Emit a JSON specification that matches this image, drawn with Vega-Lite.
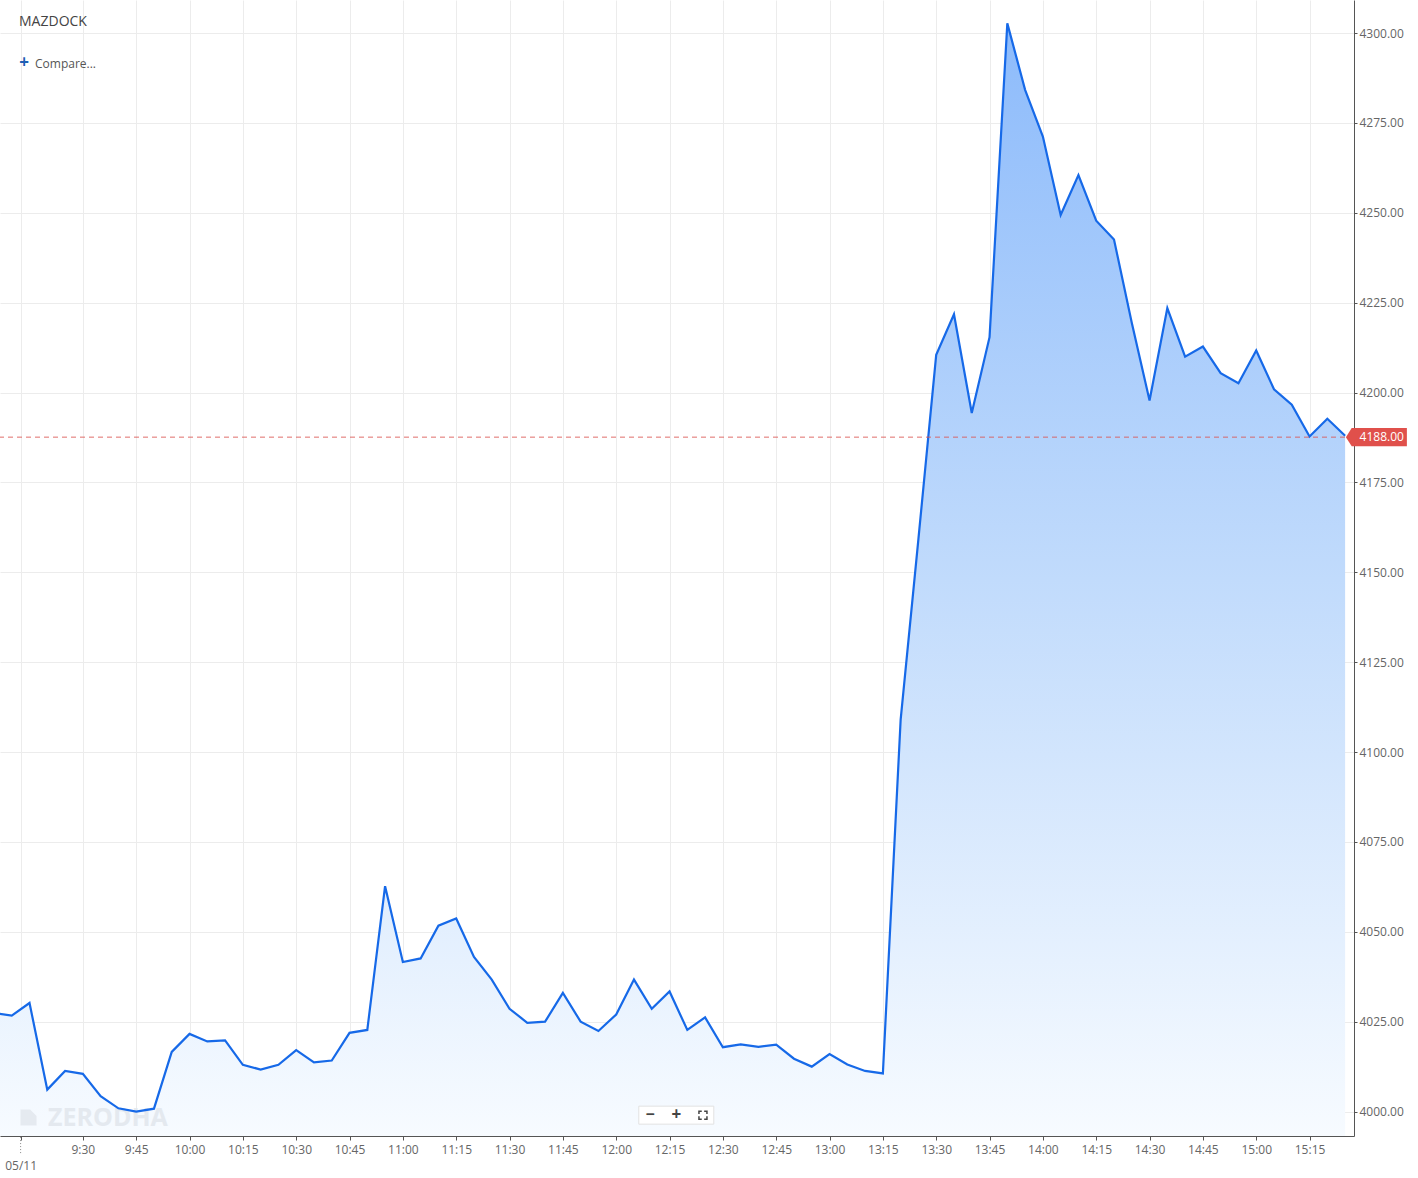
{
  "$schema": "https://vega.github.io/schema/vega-lite/v6.json",
  "width": 1354,
  "height": 1136,
  "padding": {"left": 0, "top": 0, "right": 64, "bottom": 42},
  "autosize": {"type": "none"},
  "background": "#ffffff",
  "config": {
    "view": {"stroke": null},
    "font": "Open Sans",
    "axis": {"labelFont": "Open Sans", "labelFontSize": 12, "labelColor": "#666666", "gridColor": "#ececec", "gridWidth": 1, "domainColor": "#555555", "tickColor": "#555555", "title": null}
  },
  "datasets": {
    "prices": [
      {"t": -10, "price": 4027.4}, {"t": -5, "price": 4026.7},
      {"t": 0, "price": 4030.2}, {"t": 5, "price": 4006.1}, {"t": 10, "price": 4011.3}, {"t": 15, "price": 4010.5},
      {"t": 20, "price": 4004.3}, {"t": 25, "price": 4000.9}, {"t": 30, "price": 4000.0}, {"t": 35, "price": 4000.8},
      {"t": 40, "price": 4016.6}, {"t": 45, "price": 4021.6}, {"t": 50, "price": 4019.5}, {"t": 55, "price": 4019.8},
      {"t": 60, "price": 4013.0}, {"t": 65, "price": 4011.7}, {"t": 70, "price": 4013.0}, {"t": 75, "price": 4017.1},
      {"t": 80, "price": 4013.7}, {"t": 85, "price": 4014.2}, {"t": 90, "price": 4021.9}, {"t": 95, "price": 4022.7},
      {"t": 100, "price": 4062.7}, {"t": 105, "price": 4041.6}, {"t": 110, "price": 4042.6}, {"t": 115, "price": 4051.7},
      {"t": 120, "price": 4053.7}, {"t": 125, "price": 4043.0}, {"t": 130, "price": 4036.7}, {"t": 135, "price": 4028.6},
      {"t": 140, "price": 4024.7}, {"t": 145, "price": 4025.0}, {"t": 150, "price": 4033.0}, {"t": 155, "price": 4025.0},
      {"t": 160, "price": 4022.4}, {"t": 165, "price": 4027.0}, {"t": 170, "price": 4036.7}, {"t": 175, "price": 4028.6},
      {"t": 180, "price": 4033.4}, {"t": 185, "price": 4022.7}, {"t": 190, "price": 4026.2}, {"t": 195, "price": 4017.9},
      {"t": 200, "price": 4018.7}, {"t": 205, "price": 4018.0}, {"t": 210, "price": 4018.6}, {"t": 215, "price": 4014.7},
      {"t": 220, "price": 4012.5}, {"t": 225, "price": 4016.0}, {"t": 230, "price": 4013.1}, {"t": 235, "price": 4011.3},
      {"t": 240, "price": 4010.6}, {"t": 245, "price": 4109.0}, {"t": 250, "price": 4159.3}, {"t": 255, "price": 4210.5},
      {"t": 260, "price": 4221.8}, {"t": 265, "price": 4194.3}, {"t": 270, "price": 4215.4}, {"t": 275, "price": 4302.7},
      {"t": 280, "price": 4284.2}, {"t": 285, "price": 4271.2}, {"t": 290, "price": 4249.4}, {"t": 295, "price": 4260.5},
      {"t": 300, "price": 4247.8}, {"t": 305, "price": 4242.6}, {"t": 310, "price": 4219.4}, {"t": 315, "price": 4197.8},
      {"t": 320, "price": 4223.5}, {"t": 325, "price": 4210.0}, {"t": 330, "price": 4212.8}, {"t": 335, "price": 4205.4},
      {"t": 340, "price": 4202.6}, {"t": 345, "price": 4211.7}, {"t": 350, "price": 4200.9}, {"t": 355, "price": 4196.6},
      {"t": 360, "price": 4187.8}, {"t": 365, "price": 4192.7}, {"t": 370, "price": 4188.0}
    ],
    "notes": [
      {"note": "MAZDOCK"}, {"note": "+"}, {"note": "Compare..."}, {"note": "ZERODHA"}, {"note": "4188.00"}, {"note": "−"}, {"note": "zoom+"}
    ]
  },
  "layer": [
    {
      "data": {"name": "prices"},
      "mark": {
        "type": "area", "clip": true,
        "fill": {"x1": 0, "y1": 0, "x2": 0, "y2": 1, "gradient": "linear", "stops": [{"offset": 0, "color": "#8dbbfb"}, {"offset": 0.5, "color": "#c1dbfc"}, {"offset": 1, "color": "#f7fbff"}]}
      },
      "encoding": {
        "x": {
          "field": "t", "type": "quantitative",
          "scale": {"domain": [-8.3, 372.5], "nice": false, "zero": false},
          "axis": {
            "values": [-2.5, 15, 30, 45, 60, 75, 90, 105, 120, 135, 150, 165, 180, 195, 210, 225, 240, 255, 270, 285, 300, 315, 330, 345, 360],
            "labelExpr": "datum.value < 0 ? ['', '05/11'] : (floor((555 + datum.value) / 60) + ':' + ((555 + datum.value) % 60 == 0 ? '00' : ((555 + datum.value) % 60)))",
            "tickSize": 4, "labelPadding": 4, "labelLineHeight": 16, "labelFlush": false, "labelOverlap": false, "grid": true
          }
        },
        "y": {
          "field": "price", "type": "quantitative",
          "scale": {"domain": [3993.2, 4309.2], "nice": false, "zero": false},
          "axis": {
            "orient": "right",
            "values": [4000, 4025, 4050, 4075, 4100, 4125, 4150, 4175, 4200, 4225, 4250, 4275, 4300],
            "format": ".2f", "tickSize": 3, "labelPadding": 2, "labelFontSize": 12, "grid": true
          }
        },
        "y2": {"datum": 3993.2}
      }
    },
    {
      "data": {"name": "notes"},
      "transform": [{"filter": "datum.note == 'ZERODHA'"}],
      "mark": {"type": "point", "filled": true, "shape": "M-1,-1 L0.2,-1 L1,-0.2 L1,1 L-1,1 Z", "size": 256, "color": "#e3e8ee", "opacity": 0.9},
      "encoding": {"x": {"datum": -0.28}, "y": {"datum": 3998.33}}
    },
    {
      "data": {"name": "notes"},
      "transform": [{"filter": "datum.note == 'ZERODHA'"}],
      "mark": {"type": "text", "color": "#e3e8ee", "opacity": 0.9, "fontSize": 25, "fontWeight": "bold", "align": "left", "baseline": "middle"},
      "encoding": {"x": {"datum": 5.2}, "y": {"datum": 3998.33}, "text": {"field": "note"}}
    },
    {
      "data": {"name": "prices"},
      "mark": {"type": "line", "clip": true, "color": "#1669e8", "strokeWidth": 2.2},
      "encoding": {
        "x": {
          "field": "t", "type": "quantitative",
          "scale": {"domain": [-8.3, 372.5], "nice": false, "zero": false},
          "axis": {
            "values": [-2.5, 15, 30, 45, 60, 75, 90, 105, 120, 135, 150, 165, 180, 195, 210, 225, 240, 255, 270, 285, 300, 315, 330, 345, 360],
            "labelExpr": "datum.value < 0 ? ['', '05/11'] : (floor((555 + datum.value) / 60) + ':' + ((555 + datum.value) % 60 == 0 ? '00' : ((555 + datum.value) % 60)))",
            "tickSize": 4, "labelPadding": 4, "labelLineHeight": 16, "labelFlush": false, "labelOverlap": false, "grid": true
          }
        },
        "y": {
          "field": "price", "type": "quantitative",
          "scale": {"domain": [3993.2, 4309.2], "nice": false, "zero": false},
          "axis": {
            "orient": "right",
            "values": [4000, 4025, 4050, 4075, 4100, 4125, 4150, 4175, 4200, 4225, 4250, 4275, 4300],
            "format": ".2f", "tickSize": 3, "labelPadding": 2, "labelFontSize": 12, "grid": true
          }
        }
      }
    },
    {
      "data": {"name": "notes"},
      "transform": [{"filter": "datum.note == '4188.00'"}],
      "mark": {"type": "rule", "color": "#d9534f", "strokeWidth": 1, "strokeDash": [5, 4], "opacity": 0.85},
      "encoding": {"y": {"datum": 4187.6}}
    },
    {
      "data": {"name": "notes"},
      "transform": [{"filter": "datum.note == 'MAZDOCK'"}],
      "mark": {"type": "rule", "color": "#888888", "strokeWidth": 1, "strokeDash": [1, 2]},
      "encoding": {"x": {"datum": -2.5}, "y": {"datum": 3992.9}, "y2": {"datum": 3988.2}}
    },
    {
      "data": {"name": "notes"},
      "transform": [{"filter": "datum.note == '4188.00'"}],
      "mark": {"type": "point", "filled": true, "shape": "M-1,0 L-0.81,-0.3 L1,-0.3 L1,0.3 L-0.81,0.3 Z", "size": 3721, "color": "#e0504b", "opacity": 1},
      "encoding": {"x": {"datum": 378.8}, "y": {"datum": 4187.6}}
    },
    {
      "data": {"name": "notes"},
      "transform": [{"filter": "datum.note == '4188.00'"}],
      "mark": {"type": "text", "color": "#ffffff", "fontSize": 12, "align": "center", "baseline": "middle"},
      "encoding": {"x": {"datum": 380.3}, "y": {"datum": 4187.6}, "text": {"field": "note"}}
    },
    {
      "data": {"name": "notes"},
      "transform": [{"filter": "datum.note == 'MAZDOCK'"}],
      "mark": {"type": "text", "color": "#444444", "fontSize": 14, "align": "left", "baseline": "middle"},
      "encoding": {"x": {"datum": -2.95}, "y": {"datum": 4303.0}, "text": {"field": "note"}}
    },
    {
      "data": {"name": "notes"},
      "transform": [{"filter": "datum.note == '+'"}],
      "mark": {"type": "text", "color": "#1e5fb4", "fontSize": 17, "fontWeight": "bold", "align": "center", "baseline": "middle"},
      "encoding": {"x": {"datum": -1.55}, "y": {"datum": 4291.6}, "text": {"field": "note"}}
    },
    {
      "data": {"name": "notes"},
      "transform": [{"filter": "datum.note == 'Compare...'"}],
      "mark": {"type": "text", "color": "#555555", "fontSize": 12, "align": "left", "baseline": "middle"},
      "encoding": {"x": {"datum": 1.55}, "y": {"datum": 4291.4}, "text": {"field": "note"}}
    },
    {
      "data": {"name": "notes"},
      "transform": [{"filter": "datum.note == '−'"}],
      "mark": {"type": "point", "filled": true, "shape": "M-1,-0.24 L1,-0.24 L1,0.24 L-1,0.24 Z", "size": 5625, "color": "#ffffff", "stroke": "#e2e2e2", "strokeWidth": 1, "opacity": 1},
      "encoding": {"x": {"datum": 181.9}, "y": {"datum": 3999.0}}
    },
    {
      "data": {"name": "notes"},
      "transform": [{"filter": "datum.note == '−'"}],
      "mark": {"type": "text", "color": "#444444", "fontSize": 16, "fontWeight": "bold", "align": "center", "baseline": "middle"},
      "encoding": {"x": {"datum": 174.5}, "y": {"datum": 3999.0}, "text": {"field": "note"}}
    },
    {
      "data": {"name": "notes"},
      "transform": [{"filter": "datum.note == 'zoom+'"}],
      "mark": {"type": "text", "color": "#444444", "fontSize": 17, "fontWeight": "bold", "align": "center", "baseline": "middle"},
      "encoding": {"x": {"datum": 181.9}, "y": {"datum": 3999.0}, "text": {"value": "+"}}
    },
    {
      "data": {"name": "notes"},
      "transform": [{"filter": "datum.note == 'zoom+'"}],
      "mark": {"type": "point", "filled": false, "shape": "M-1,-0.3 L-1,-1 L-0.3,-1 M0.3,-1 L1,-1 L1,-0.3 M1,0.3 L1,1 L0.3,1 M-0.3,1 L-1,1 L-1,0.3", "size": 64, "color": "#444444", "strokeWidth": 1.5, "opacity": 1},
      "encoding": {"x": {"datum": 189.4}, "y": {"datum": 3999.0}}
    }
  ]
}
